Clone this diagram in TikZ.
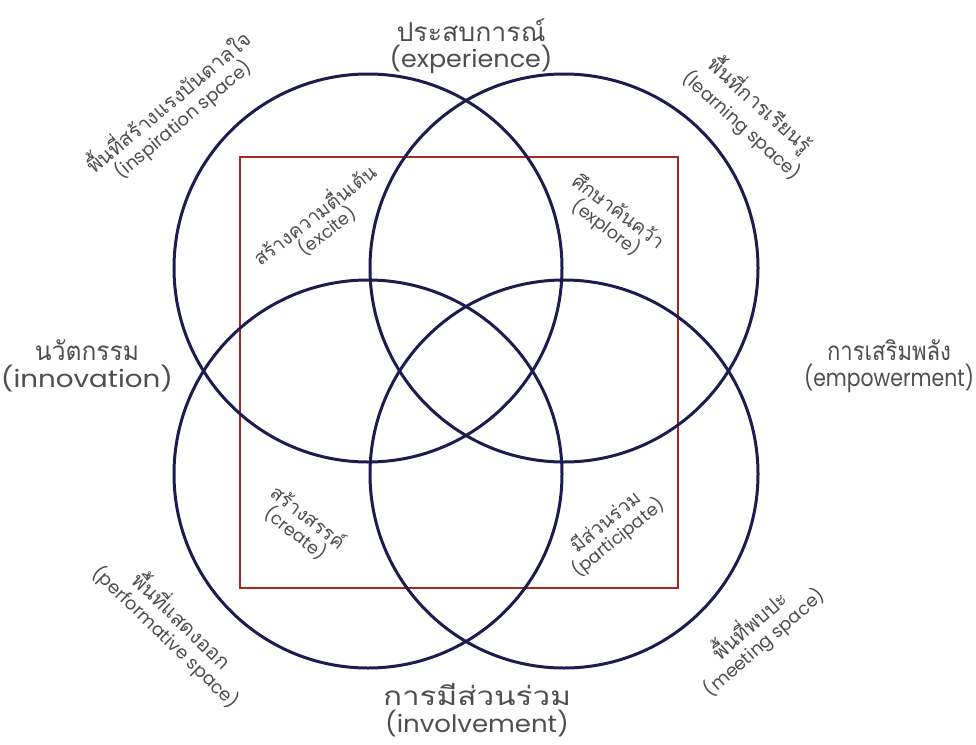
\documentclass[tikz,border=0pt]{standalone}
\usepackage{fontspec}
\usepackage{graphicx}
\setmainfont[Script=Thai]{Loma}
\newfontfamily\thaifont[Script=Thai]{Loma}
\newfontfamily\engfont{Poppins}
\definecolor{ringblue}{HTML}{1C1C4E}
\definecolor{boxred}{HTML}{A8281E}
\definecolor{txt}{HTML}{4E4E4E}
\newcommand{\fitw}[2]{\resizebox{#1}{\height}{#2}}
% main label: thai width, thai text, english width, english text
\newcommand{\mainpair}[4]{\fitw{#1}{\thaifont\fontsize{26}{30}\selectfont #2}\\[3pt]\fitw{#3}{\engfont\fontsize{24}{30}\selectfont #4}}
\newcommand{\spacepair}[2]{{\thaifont\fontsize{20.5}{26}\selectfont #1}\\[3pt]{\engfont\fontsize{18}{26}\selectfont #2}}
\newcommand{\innerpair}[2]{{\thaifont\fontsize{19.5}{25}\selectfont #1}\\[2pt]{\engfont\fontsize{17.5}{25}\selectfont #2}}
\tikzset{
  ring/.style={circle,draw=ringblue,line width=3pt,minimum size=388pt,inner sep=0pt},
  frame/.style={rectangle,draw=boxred,line width=2.5pt,inner sep=0pt},
  lbl/.style={align=center,text=txt,inner sep=0pt}
}
\begin{document}
\begin{tikzpicture}[x=1pt,y=-1pt]
\useasboundingbox (0,0) rectangle (976,744);
% frame
\node[frame,minimum width=438pt,minimum height=431pt] (box) at (459,372.5) {};
% circles
\node[ring] (ctl) at (368,268) {};
\node[ring] (ctr) at (564,268) {};
\node[ring] (cbl) at (368,474) {};
\node[ring] (cbr) at (564,474) {};
% main labels
\node[lbl] (top) at (471,46) {\mainpair{149pt}{ประสบการณ์}{163pt}{(experience)}};
\node[lbl] (left) at (87,366) {\mainpair{104pt}{นวัตกรรม}{172pt}{(innovation)}};
\node[lbl] (right) at (889,366) {\mainpair{124pt}{การเสริมพลัง}{170pt}{(empowerment)}};
\node[lbl] (bottom) at (477,710) {\mainpair{188pt}{การมีส่วนร่วม}{184pt}{(involvement)}};
% space labels
\node[lbl,rotate=40] (insp) at (175,110) {\spacepair{พื้นที่สร้างแรงบันดาลใจ}{(inspiration space)}};
\node[lbl,rotate=-42] (learn) at (752,114) {\spacepair{พื้นที่การเรียนรู้}{(learning space)}};
\node[lbl,rotate=-44] (perf) at (175,628) {\spacepair{พื้นที่แสดงออก}{(performative space)}};
\node[lbl,rotate=41] (meet) at (756,633) {\spacepair{พื้นที่พบปะ}{(meeting space)}};
% inner labels
\node[lbl,rotate=38] (excite) at (320,222) {\innerpair{สร้างความตื่นเต้น}{(excite)}};
\node[lbl,rotate=-37] (explore) at (612,220) {\innerpair{ศึกษาค้นคว้า}{(explore)}};
\node[lbl,rotate=-38] (create) at (302,525) {\innerpair{สร้างสรรค์}{(create)}};
\node[lbl,rotate=39] (part) at (612,530) {\innerpair{มีส่วนร่วม}{(participate)}};
\end{tikzpicture}
\end{document}
